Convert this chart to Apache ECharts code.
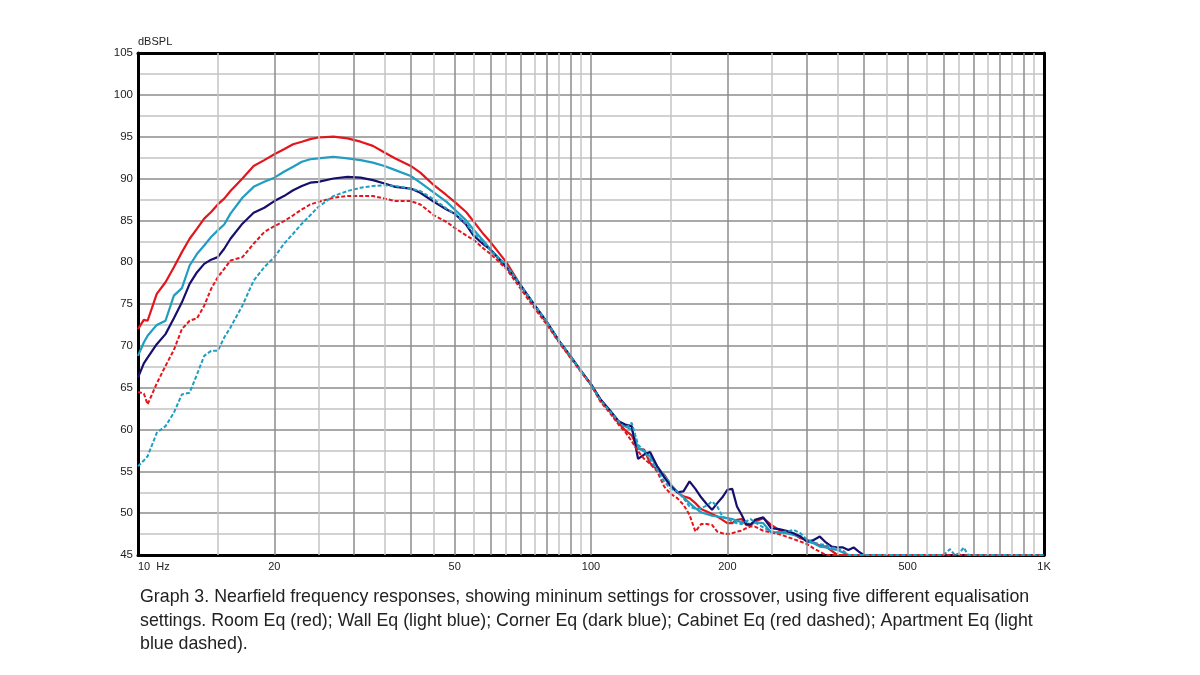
<!DOCTYPE html>
<html>
<head>
<meta charset="utf-8">
<title>Graph 3 - Nearfield frequency responses</title>
<script src="https://cdn.jsdelivr.net/npm/echarts@6/dist/echarts.min.js"></script>
<style>
  html, body { margin: 0; padding: 0; background: #ffffff; }
  #chart { width: 1200px; height: 675px; }
</style>
</head>
<body>
<div id="chart"></div>
<script>
// frequency points (Hz), shared by all five curves
var freqs = [10, 10.3, 10.5, 11, 11.5, 12, 12.5, 13, 13.5, 14, 14.5, 15, 15.5,
  16, 17, 18, 19, 20, 21, 22, 23, 24, 25,
  27, 29, 31, 33, 35, 37,
  40, 42, 45, 48, 50, 53, 55, 58, 60,
  65, 70, 75, 80, 85, 90, 95, 100,
  105, 110, 115, 119, 123, 127, 131, 135,
  140, 145, 150, 155, 160, 165, 170, 175, 180, 185, 190, 195, 200,
  205, 210, 215, 220, 225, 230,
  240, 250, 260, 270, 280, 290, 300,
  310, 320, 330, 340, 350, 360, 370, 380, 390, 400,
  450, 500, 550, 600, 620, 635, 650, 665, 680, 700, 800, 900, 1000];

// dBSPL
var roomEq = [72.0, 73.1, 73.0, 76.2, 77.6, 79.4, 81.2, 82.8, 84.0, 85.2, 86.0, 86.9, 87.6,
  88.5, 90.0, 91.5, 92.2, 92.9, 93.5, 94.1, 94.4, 94.7, 94.9,
  95.0, 94.8, 94.4, 93.9, 93.1, 92.4,
  91.5, 90.7, 89.2, 88.0, 87.2, 86.0, 84.9, 83.3, 82.4,
  80.0, 77.2, 74.8, 72.7, 70.5, 68.7, 67.0, 65.4,
  63.5, 62.2, 60.8, 59.9, 59.3, 57.7, 57.6, 56.0,
  55.2, 54.6, 53.4, 52.5, 52.0, 51.8, 51.2, 50.5, 50.2, 49.9, 49.6, 49.2, 48.8,
  48.8, 49.2, 49.3, 48.6, 48.5, 49.0,
  49.4, 48.6, 48.0, 47.7, 47.5, 47.0, 46.8,
  46.5, 46.1, 46.0, 45.5, 45.0, 45, 45, 45, 45, 45,
  45, 45, 45, 45, 45, 45, 45, 45, 45, 45, 45, 45, 45];

var wallEq = [68.8, 70.4, 71.2, 72.5, 73.0, 76.0, 76.9, 79.6, 81.0, 82.0, 83.0, 83.8, 84.5,
  85.8, 87.7, 89.0, 89.6, 90.1, 90.8, 91.4, 92.0, 92.3, 92.4,
  92.6, 92.4, 92.2, 91.9, 91.5, 91.0,
  90.3, 89.5, 88.3, 87.2, 86.3, 85.0, 83.9, 82.5, 81.5,
  79.6, 77.2, 74.9, 72.8, 70.6, 68.8, 67.0, 65.4,
  63.5, 62.3, 61.0, 60.4, 60.0, 57.8, 57.4, 56.8,
  55.6, 54.5, 53.4, 52.6, 51.9, 51.2, 50.6, 50.1, 49.9, 49.7, 49.6, 49.5, 49.4,
  49.3, 49.1, 48.9, 48.8, 48.7, 48.9,
  48.8, 47.7, 47.7, 47.6, 47.4, 47.2, 46.6,
  46.4, 46.0, 45.9, 45.7, 45.6, 45.3, 45.0, 45, 45, 45,
  45, 45, 45, 45, 45, 45, 45, 45, 45, 45, 45, 45, 45];

var cornerEq = [66.2, 67.9, 68.6, 70.2, 71.4, 73.3, 75.2, 77.4, 78.8, 79.8, 80.3, 80.6, 81.6,
  82.8, 84.6, 85.9, 86.5, 87.3, 87.9, 88.6, 89.1, 89.5, 89.6,
  90.0, 90.2, 90.1, 89.8, 89.4, 89.0,
  88.8, 88.3, 87.2, 86.3, 85.8, 84.5, 83.2, 82.1, 81.5,
  79.4, 77.2, 74.9, 72.8, 70.6, 68.8, 67.0, 65.4,
  63.6, 62.3, 61.0, 60.6, 60.4, 56.5, 57.0, 57.3,
  55.6, 54.3, 53.2, 52.5, 52.6, 53.8, 52.9, 51.9, 51.1, 50.4, 51.2, 51.9, 52.8,
  52.9, 50.8, 49.8, 48.7, 48.6, 49.2,
  49.5, 48.2, 48.1, 47.9, 47.6, 47.2, 46.6,
  46.8, 47.2, 46.5, 46.0, 45.9, 45.9, 45.6, 45.9, 45.4, 45.0,
  45, 45, 45, 45, 45, 45, 45, 45, 45, 45, 45, 45, 45];

var cabinetEq = [64.5, 64.3, 63.0, 65.5, 67.6, 69.5, 72.0, 73.0, 73.3, 74.8, 76.8, 78.2, 79.2,
  80.2, 80.6, 82.2, 83.6, 84.3, 84.9, 85.6, 86.3, 86.9, 87.2,
  87.7, 87.9, 87.9, 87.9, 87.6, 87.3,
  87.3, 86.9, 85.6, 84.8, 84.1, 83.2, 82.7, 81.6, 81.0,
  79.2, 76.8, 74.5, 72.5, 70.4, 68.6, 66.9, 65.3,
  63.3, 62.0, 60.6, 59.7, 58.6, 57.4, 56.5, 55.9,
  55.0, 53.2, 52.3, 51.8, 51.0, 49.8, 47.8, 48.7, 48.7, 48.6, 47.8, 47.6, 47.5,
  47.6, 47.8, 47.9, 48.2, 48.4, 48.4,
  47.9, 47.7, 47.5, 47.2, 46.9, 46.6, 46.3,
  45.8, 45.4, 45.0, 45, 45, 45, 45, 45, 45, 45,
  45, 45, 45, 45, 45, 45, 45, 45, 45, 45, 45, 45, 45];

var apartmentEq = [55.6, 56.3, 56.8, 59.6, 60.4, 62.0, 64.2, 64.4, 66.6, 68.8, 69.4, 69.4, 71.0,
  72.2, 74.8, 77.8, 79.4, 80.6, 82.2, 83.4, 84.6, 85.6, 86.6,
  87.9, 88.5, 88.9, 89.1, 89.2, 89.1,
  88.8, 88.5, 87.5, 86.4, 85.8, 84.6, 83.5, 82.3, 81.4,
  79.6, 77.2, 74.9, 72.8, 70.6, 68.8, 67.0, 65.4,
  63.5, 62.2, 61.0, 60.2, 60.8, 58.2, 57.4, 56.4,
  55.2, 53.8, 52.9, 52.6, 51.8, 50.8, 50.5, 50.6, 50.9, 51.4, 50.8, 49.6, 49.3,
  49.0, 48.8, 48.7, 49.0, 49.3, 48.9,
  48.3, 47.8, 47.7, 47.8, 48.0, 47.6, 46.8,
  46.5, 46.3, 46.2, 45.9, 45.8, 45.5, 45.0, 45, 45, 45,
  45, 45, 45, 45, 45.7, 45, 45.2, 45.9, 45, 45, 45, 45, 45];

var xLabels = [10, 20, 50, 100, 200, 500, 1000];
var gridDark = [20, 30, 40, 50, 60, 70, 80, 90, 100, 200, 300, 400, 500, 600, 700, 800, 900];
var gridLight = [15, 25, 35, 45, 55, 65, 75, 85, 95, 150, 250, 350, 450, 550, 650, 750, 850, 950];

var caption = 'Graph 3. Nearfield frequency responses, showing mininum settings for crossover, using five different equalisation\n' +
  'settings. Room Eq (red); Wall Eq (light blue); Corner Eq (dark blue); Cabinet Eq (red dashed); Apartment Eq (light\n' +
  'blue dashed).';

function pairs(vals) {
  return freqs.map(function (f, i) { return [f, vals[i]]; });
}

var RED = '#e3161c';
var LBLUE = '#1f9dc2';
var DBLUE = '#170f6e';
var FONT = '"Liberation Sans", Arial, Helvetica, sans-serif';
var frameLine = { show: true, onZero: false, lineStyle: { color: '#000000', width: 3 } };

var chart = echarts.init(document.getElementById('chart'));
chart.setOption({
  animation: false,
  backgroundColor: '#ffffff',
  title: {
    text: caption,
    left: 140,
    top: 585,
    padding: 0,
    textStyle: {
      fontFamily: FONT,
      fontSize: 17.8,
      fontWeight: 'normal',
      color: '#222222',
      lineHeight: 23.8
    }
  },
  grid: {
    left: 138,
    right: 156,
    top: 53,
    bottom: 120
  },
  xAxis: [{
    type: 'log',
    logBase: 10,
    min: 10,
    max: 1000,
    z: 3,
    axisLine: frameLine,
    axisTick: { show: false },
    splitLine: { show: false },
    axisLabel: {
      customValues: xLabels,
      alignMinLabel: 'left',
      margin: 6,
      fontFamily: FONT,
      fontSize: 11,
      color: '#222222',
      formatter: function (v) {
        if (v === 10) return '10  Hz';
        if (v === 1000) return '1K';
        return String(v);
      }
    }
  }, {
    // top edge of the frame
    type: 'log',
    position: 'top',
    min: 10,
    max: 1000,
    z: 3,
    axisLine: frameLine,
    axisTick: { show: false },
    axisLabel: { show: false },
    splitLine: { show: false }
  }],
  yAxis: [{
    type: 'value',
    min: 45,
    max: 105,
    interval: 5,
    name: 'dBSPL',
    nameLocation: 'end',
    nameGap: 5,
    nameTextStyle: { align: 'left', fontFamily: FONT, fontSize: 11, color: '#222222' },
    axisLine: { show: false },
    axisTick: { show: false },
    axisLabel: { margin: 5, fontFamily: FONT, fontSize: 11.5, color: '#222222' },
    splitLine: { lineStyle: { color: '#8c8c8c', width: 1.5 } },
    minorTick: { show: false, splitNumber: 2 },
    minorSplitLine: { show: true, lineStyle: { color: '#c4c4c4', width: 1.5 } }
  }, {
    // left edge of the frame
    type: 'value',
    position: 'left',
    min: 45,
    max: 105,
    z: 3,
    axisLine: frameLine,
    axisTick: { show: false },
    axisLabel: { show: false },
    splitLine: { show: false }
  }, {
    // right edge of the frame
    type: 'value',
    position: 'right',
    min: 45,
    max: 105,
    z: 3,
    axisLine: frameLine,
    axisTick: { show: false },
    axisLabel: { show: false },
    splitLine: { show: false }
  }],
  series: [
    {
      // vertical grid lines of the log axis
      type: 'line',
      data: [],
      silent: true,
      z: 1,
      markLine: {
        silent: true,
        symbol: 'none',
        label: { show: false },
        animation: false,
        data: gridLight.map(function (v) {
          return { xAxis: v, lineStyle: { color: '#c4c4c4', width: 1.5, type: 'solid' } };
        }).concat(gridDark.map(function (v) {
          return { xAxis: v, lineStyle: { color: '#8c8c8c', width: 1.5, type: 'solid' } };
        }))
      }
    },
    { name: 'Room Eq', type: 'line', showSymbol: false, data: pairs(roomEq),
      lineStyle: { color: RED, width: 2.2 } },
    { name: 'Wall Eq', type: 'line', showSymbol: false, data: pairs(wallEq),
      lineStyle: { color: LBLUE, width: 2.2 } },
    { name: 'Corner Eq', type: 'line', showSymbol: false, data: pairs(cornerEq),
      lineStyle: { color: DBLUE, width: 2.2 } },
    { name: 'Cabinet Eq', type: 'line', showSymbol: false, data: pairs(cabinetEq),
      lineStyle: { color: RED, width: 2, type: [4, 2] } },
    { name: 'Apartment Eq', type: 'line', showSymbol: false, z: 4, data: pairs(apartmentEq),
      lineStyle: { color: LBLUE, width: 2, type: [4, 2] } }
  ]
});
</script>
</body>
</html>
